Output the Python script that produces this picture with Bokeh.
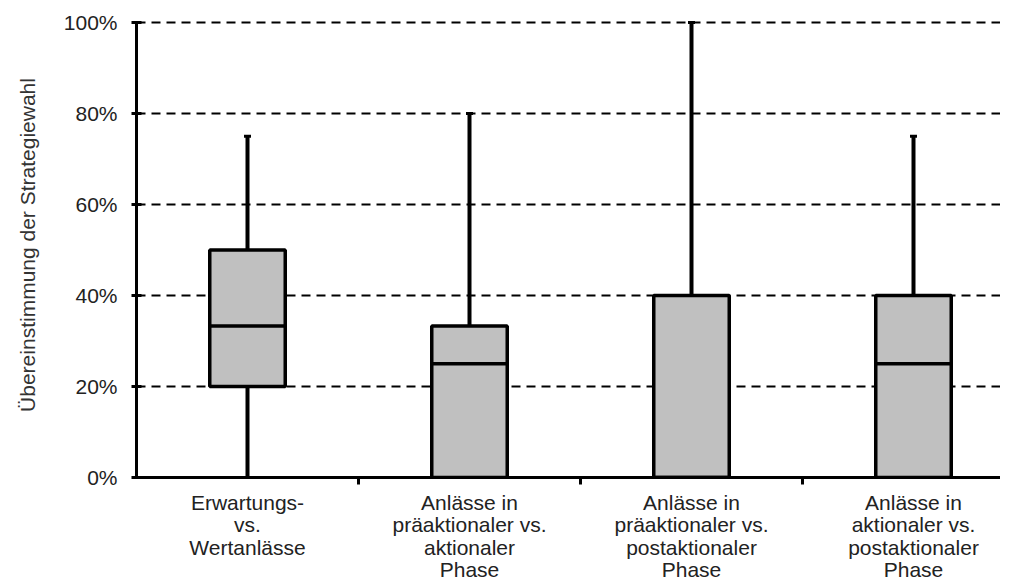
from bokeh.plotting import figure
from bokeh.models import Range1d, FixedTicker, ColumnDataSource
from bokeh.embed import file_html
from bokeh.resources import INLINE

# ---- data ----
categories = [
    "Erwartungs-\nvs.\nWertanlässe",
    "Anlässe in\npräaktionaler vs.\naktionaler\nPhase",
    "Anlässe in\npräaktionaler vs.\npostaktionaler\nPhase",
    "Anlässe in\naktionaler vs.\npostaktionaler\nPhase",
]
q_min = [0.0, 0.0, 0.0, 0.0]
q1 = [0.20, 0.0, 0.0, 0.0]
median = [0.333, 0.25, 0.0, 0.25]
q3 = [0.50, 0.333, 0.40, 0.40]
q_max = [0.75, 0.80, 1.00, 0.75]
y_ticks = [0.0, 0.2, 0.4, 0.6, 0.8, 1.0]
y_tick_labels = ["0%", "20%", "40%", "60%", "80%", "100%"]

FONT = "Liberation Sans"
TXT = "#222222"
BOX_W = 0.34
LEFT = 136
FW = 1000 - LEFT

xs = [i + 0.5 for i in range(len(categories))]
src = ColumnDataSource(dict(
    x=xs, x0=[x - BOX_W / 2 for x in xs], x1=[x + BOX_W / 2 for x in xs],
    qmin=q_min, q1=q1, med=median, q3=q3, qmax=q_max,
))

p = figure(
    frame_width=FW, frame_height=465,
    x_range=Range1d(0, FW / 222), y_range=Range1d(0, 1.022),
    output_backend="svg", toolbar_location=None,
    min_border_left=LEFT, min_border_top=12, min_border_right=0, min_border_bottom=0,
    outline_line_color=None, background_fill_color="white",
)

# grid
p.xgrid.visible = False
p.ygrid.ticker = FixedTicker(ticks=y_ticks[1:])
p.ygrid.grid_line_color = "black"
p.ygrid.grid_line_width = 2
p.ygrid.grid_line_dash = "9 6"

# whiskers
p.segment(x0="x", y0="q3", x1="x", y1="qmax", source=src, line_color="black", line_width=4)
p.segment(x0="x", y0="qmin", x1="x", y1="q1", source=src, line_color="black", line_width=4)
p.scatter(x="x", y="qmax", source=src, marker="dash", size=7, line_color="black", line_width=3)

# boxes
p.vbar(x="x", width=BOX_W, bottom="q1", top="q3", source=src,
       fill_color="#c0c0c0", line_color="black", line_width=3.5)
p.segment(x0="x0", y0="med", x1="x1", y1="med", source=src, line_color="black", line_width=3.5)

# y axis
ya = p.yaxis[0]
ya.ticker = FixedTicker(ticks=y_ticks)
ya.major_label_overrides = {t: l for t, l in zip(y_ticks, y_tick_labels)}
ya.bounds = (0, 1)
ya.axis_line_width = 3
ya.axis_line_color = "black"
ya.major_tick_in = 5
ya.major_tick_out = 5
ya.major_tick_line_width = 3
ya.minor_tick_line_color = None
ya.major_label_standoff = 14
ya.major_label_text_font = FONT
ya.major_label_text_font_size = "21px"
ya.major_label_text_color = TXT
ya.axis_label = "Übereinstimmung der Strategiewahl"
ya.axis_label_text_font = FONT
ya.axis_label_text_font_size = "21px"
ya.axis_label_text_font_style = "normal"
ya.axis_label_text_color = "#333333"
ya.axis_label_standoff = 22

# x axis
xa = p.xaxis[0]
xa.ticker = FixedTicker(ticks=xs, minor_ticks=[1, 2, 3])
xa.major_label_overrides = {x: c for x, c in zip(xs, categories)}
xa.axis_line_width = 3
xa.axis_line_color = "black"
xa.major_tick_line_color = None
xa.major_tick_in = 0
xa.major_tick_out = 0
xa.minor_tick_in = 0
xa.minor_tick_out = 7
xa.minor_tick_line_width = 3
xa.minor_tick_line_color = "black"
xa.major_label_standoff = 6
xa.major_label_text_font = FONT
xa.major_label_text_font_size = "21px"
xa.major_label_text_line_height = 0.98
xa.major_label_text_color = TXT

open("out.html", "w").write(file_html(p, INLINE))
